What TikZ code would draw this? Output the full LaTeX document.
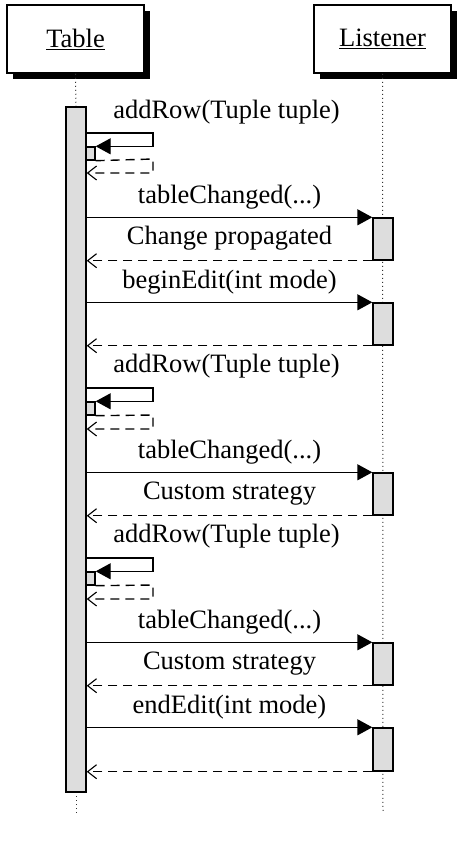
\documentclass[tikz,border=0pt]{standalone}
\usepackage{fontspec}
\setmainfont{Liberation Serif}
\usetikzlibrary{arrows.meta,shadows}
\begin{document}
\begin{tikzpicture}[x=1pt,y=-1pt,
  obj/.style={draw, line width=1.5pt, fill=white, minimum width=137pt, minimum height=68pt, inner sep=0pt,
    font=\fontsize{26.5}{30}\selectfont,
    drop shadow={shadow xshift=6pt, shadow yshift=-6pt, opacity=1, fill=black}},
  life/.style={line width=1pt, gray!40!black, dash pattern=on 1pt off 3pt},
  actbar/.style={draw, line width=1.4pt, fill=gray!27, minimum width=20pt, inner sep=0pt},
  selfbox/.style={draw, line width=1.4pt, fill=gray!27, minimum width=9pt, minimum height=13pt, inner sep=0pt},
  call/.style={line width=1.4pt, -{Triangle[length=15pt,width=16pt]}},
  ret/.style={line width=1.4pt, dash pattern=on 9pt off 6pt, -{Straight Barb[length=9pt,width=14pt,line width=1.1pt]}},
  lbl/.style={font=\fontsize{26.5}{30}\selectfont, inner sep=0pt, anchor=base}
]
\useasboundingbox (0,0) rectangle (457,857);

% objects
\node[obj] (table) at (75.5,39) {\underline{Table}};
\node[obj] (listener) at (382.5,39) {\underline{Listener}};

% lifelines
\coordinate (tend) at (76,813);
\coordinate (lend) at (383,813);
\draw[life] (table.south) -- (76,107);
\draw[life] (76,792) -- (tend);
\draw[life] (listener.south) -- (lend);

% Table activation bar
\node[actbar, minimum height=685pt] (tb) at (76,449.5) {};

% Listener activations
\node[actbar, minimum height=42pt] (l1) at (383,239) {};
\node[actbar, minimum height=42pt] (l2) at (383,324) {};
\node[actbar, minimum height=42pt] (l3) at (383,494) {};
\node[actbar, minimum height=42pt] (l4) at (383,664) {};
\node[actbar, minimum height=43pt] (l5) at (383,749.5) {};

% self activations
\node[selfbox] (s1) at (90.5,153.5) {};
\node[selfbox] (s2) at (90.5,408.5) {};
\node[selfbox] (s3) at (90.5,578.5) {};

% self calls
\foreach \s/\t/\r in {s1/133/173, s2/388/429, s3/558/599}{
  \draw[call] (tb.east |- 0,\t) -- (153,\t) |- (\s.north east);
  \draw[ret] (\s.south east) -- (153,{\r-14}) -- (153,\r) -- (tb.east |- 0,\r);
}
\node[lbl] (m1) at (226.5,118) {addRow(Tuple tuple)};
\node[lbl] (m4) at (226.5,372) {addRow(Tuple tuple)};
\node[lbl] (m7) at (226.5,542) {addRow(Tuple tuple)};

% calls to listener
\foreach \b in {l1,l2,l3,l4,l5}{
  \draw[call] (tb.east |- \b.north) -- (\b.north west);
  \draw[ret] (\b.south west) -- (tb.east |- \b.south);
}
\node[lbl] (m2) at (229.5,203) {tableChanged(...)};
\node[lbl] (r2) at (229.5,244) {Change propagated};
\node[lbl] (m3) at (229.5,288) {beginEdit(int mode)};
\node[lbl] (m5) at (229.5,458) {tableChanged(...)};
\node[lbl] (r5) at (229.5,499) {Custom strategy};
\node[lbl] (m8) at (229.5,628) {tableChanged(...)};
\node[lbl] (r8) at (229.5,669) {Custom strategy};
\node[lbl] (m9) at (229.5,713) {endEdit(int mode)};
\end{tikzpicture}
\end{document}
